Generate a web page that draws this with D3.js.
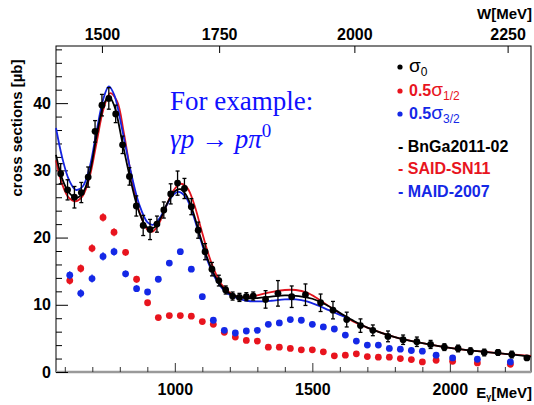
<!DOCTYPE html>
<html>
<head>
<meta charset="utf-8">
<script src="https://cdn.jsdelivr.net/npm/d3@7"></script>
<style>
  html, body { margin: 0; padding: 0; background: #fff; }
  svg { display: block; }
  .lab { font-family: "Liberation Sans", Arial, sans-serif; font-weight: bold; }
</style>
</head>
<body>
<script>
// ---------------- data ----------------
const sig0E   = [585,610,635,660,685,710,735,760,785,810,835,860,885,910,935,960,985,1010,1035,1060,1085,1110,1135,1160,1185,1210,1235,1260,1285,1330,1375,1425,1475,1530,1575,1625,1675,1720,1775,1830,1880,1930,1980,2030,2075,2125,2175,2225,2280];
const sig0V   = [29.5,27.1,26.0,26.7,29.0,35.8,39.7,40.7,38.4,33.8,29.1,24.7,21.8,21.2,22.0,24.1,26.5,28.1,27.3,24.6,21.1,17.9,15.3,13.6,12.2,11.3,11.1,11.2,11.3,10.8,11.7,11.2,11.5,10.3,9.2,7.8,6.9,6.2,5.3,4.8,4.5,4.1,3.7,3.5,3.1,2.9,2.9,2.6,2.1];
const sig0Err = [1.5,1.5,1.6,1.5,1.5,1.6,1.6,1.6,1.3,1.3,1.3,1.5,1.5,1.5,1.2,1.2,1.5,1.8,1.5,1.2,1.2,1.2,1.0,0.8,0.6,0.6,0.6,0.6,0.6,1.3,1.9,1.6,1.6,1.3,1.3,1.1,1.0,0.8,0.8,0.7,0.7,0.6,0.5,0.5,0.5,0.5,0.4,0.5,0.3];

const halfE   = [618,658,699,739,779,821,861,901,940,980,1020,1060,1100,1140,1180,1220,1260,1300,1340,1380,1420,1460,1500,1540,1580,1620,1660,1700,1740,1780,1820,1860,1900,1950,2010,2100,2220];
const half12V = [13.6,15.4,18.4,23.0,20.8,17.8,13.8,10.3,8.1,8.4,8.4,8.3,7.5,7.1,5.9,5.2,4.7,4.6,3.7,3.7,3.5,3.3,3.3,3.0,2.4,2.5,2.7,2.3,2.2,2.2,2.0,1.85,1.5,1.75,1.6,1.35,1.15];
const half32V = [14.4,11.7,13.9,17.2,17.9,14.6,12.4,11.9,13.8,16.2,17.9,15.3,11.2,7.7,6.2,5.8,6.1,6.2,7.1,7.3,7.8,7.7,7.1,6.7,6.4,5.5,4.6,4.0,4.0,3.5,3.4,3.2,3.1,2.5,2.1,1.9,1.5];
const halfErr = [0.6,0.6,0.6,0.6,0.6,0.5,0.5,0.4,0.3,0.3,0.3,0.3,0.3,0.3,0.3,0.3,0.3,0.3,0.3,0.3,0.3,0.3,0.3,0.3,0.3,0.3,0.3,0.3,0.3,0.3,0.3,0.3,0.3,0.3,0.3,0.3,0.3];

const bngaE = [568,590,615,640,665,690,715,740,760,780,810,840,870,900,925,950,975,1000,1020,1040,1065,1090,1115,1140,1165,1190,1220,1260,1300,1350,1400,1450,1500,1550,1600,1650,1700,1800,1900,2000,2100,2200,2295];
const bngaV = [32.3,28.8,26.7,25.9,26.6,29.5,35.0,39.6,41.0,39.6,34.0,28.4,23.8,21.5,21.5,23.0,25.3,26.9,27.2,26.4,24.0,20.5,17.3,14.8,13.0,11.9,11.3,11.0,11.0,11.2,11.4,11.3,10.9,10.0,8.8,7.6,6.6,5.2,4.3,3.6,3.1,2.7,2.3];
const saidE = [568,590,615,640,665,690,715,740,765,790,815,840,870,900,920,945,970,995,1020,1045,1070,1095,1120,1145,1170,1200,1230,1270,1310,1350,1400,1440,1480,1520,1560,1600,1650,1700,1800,1900,2000,2100,2200,2295];
const saidV = [31.5,28.0,25.9,25.4,26.2,29.0,34.0,39.0,41.5,40.3,35.5,29.6,24.0,21.2,20.9,22.3,24.8,27.0,28.0,27.4,25.0,21.4,17.8,15.0,13.0,11.8,11.2,11.2,11.5,11.9,12.2,12.2,11.8,10.9,9.8,8.7,7.5,6.6,5.2,4.3,3.6,3.1,2.7,2.4];
const maidE = [568,590,615,640,665,690,715,740,760,780,810,840,870,900,920,945,970,995,1015,1040,1065,1090,1115,1140,1165,1190,1220,1260,1300,1350,1400,1440,1480,1520,1560,1600,1635];
const maidV = [36.3,32.0,28.6,27.1,27.6,30.4,35.7,40.6,42.5,41.2,35.8,29.8,25.0,22.3,21.9,22.9,24.8,26.4,26.8,26.0,23.6,20.2,17.0,14.5,12.8,11.7,11.1,10.6,10.5,10.6,10.8,10.8,10.5,9.9,9.2,8.5,7.9];

const xTicks = [1000, 1500, 2000];
const wTicks = [1500, 1750, 2000, 2250];
const yTicks = [0, 10, 20, 30, 40];

// ---------------- layout ----------------
const W = 534, H = 405;
const svg = d3.select("body").append("svg").attr("width", W).attr("height", H);

const x = d3.scaleLinear().domain([568, 2295]).range([56, 531]);
const y = d3.scaleLinear().domain([0, 48.5]).range([372, 46]);
// top W axis (W^2 is linear in E_gamma)
const xW = d3.scalePow().exponent(2).domain([1500, 2250]).range([x(735), x(2210)]);

const L = 56, R = 531, T = 46, B = 372;

// frame
svg.append("rect").attr("x", L).attr("y", T).attr("width", R - L).attr("height", B - T)
  .attr("fill", "none").attr("stroke", "#000").attr("stroke-width", 1);

// bottom gray line
svg.append("line").attr("x1", L).attr("x2", R).attr("y1", B).attr("y2", B)
  .attr("stroke", "#9a9a9a").attr("stroke-width", 2.5);

// bottom axis
const xMinor = d3.range(600, 2295, 100);
const gx = svg.append("g").attr("transform", `translate(0,${B})`);
gx.call(d3.axisTop(x).tickValues(xMinor).tickSize(5).tickFormat(""));
gx.select(".domain").remove();
gx.selectAll("line").attr("stroke", "#333");
gx.selectAll(".tick").filter(d => xTicks.includes(d)).select("line").attr("y2", -9);
const gxl = svg.append("g").attr("transform", `translate(0,${B})`);
gxl.call(d3.axisBottom(x).tickValues(xTicks).tickSize(0).tickPadding(12).tickFormat(d3.format("d")));
gxl.select(".domain").remove();
gxl.selectAll("text").attr("class", "lab").attr("font-size", 16).attr("fill", "#000");

// left axis
const yMinor = d3.range(0, 48.1, 2);
const gy = svg.append("g").attr("transform", `translate(${L},0)`);
gy.call(d3.axisRight(y).tickValues(yMinor).tickSize(6).tickFormat(""));
gy.select(".domain").remove();
gy.selectAll("line").attr("stroke", "#000");
gy.selectAll(".tick").filter(d => yTicks.includes(d)).select("line").attr("x2", 12);
const gyl = svg.append("g").attr("transform", `translate(${L},0)`);
gyl.call(d3.axisLeft(y).tickValues(yTicks).tickSize(0).tickPadding(5).tickFormat(d3.format("d")));
gyl.select(".domain").remove();
gyl.selectAll("text").attr("class", "lab").attr("font-size", 16).attr("fill", "#000");

// top axis (W)
const gw = svg.append("g").attr("transform", `translate(0,${T})`);
gw.call(d3.axisBottom(xW).tickValues(wTicks).tickSize(7).tickFormat(""));
gw.select(".domain").remove();
gw.selectAll("line").attr("stroke", "#000");
const gwl = svg.append("g").attr("transform", `translate(0,${T})`);
gwl.call(d3.axisTop(xW).tickValues(wTicks).tickSize(0).tickPadding(6).tickFormat(d3.format("d")));
gwl.select(".domain").remove();
gwl.selectAll("text").attr("class", "lab").attr("font-size", 16).attr("fill", "#000");

// axis titles
svg.append("text").attr("class", "lab").attr("font-size", 15)
  .attr("transform", `translate(22,${128}) rotate(-90)`).attr("text-anchor", "middle")
  .text("cross sections [µb]");
const et = svg.append("text").attr("class", "lab").attr("font-size", 15)
  .attr("x", 532).attr("y", 398).attr("text-anchor", "end");
et.append("tspan").text("E");
et.append("tspan").attr("font-size", 9).attr("dy", 2).text("γ");
et.append("tspan").attr("dy", -2).text("[MeV]");
svg.append("text").attr("class", "lab").attr("font-size", 15)
  .attr("x", 532).attr("y", 19).attr("text-anchor", "end").text("W[MeV]");

// ---------------- marks ----------------
const plot = svg.append("g");
function points(E, V, Err, color, r, cap) {
  const g = plot.append("g");
  E.forEach((e, i) => {
    g.append("line").attr("x1", x(e)).attr("x2", x(e))
      .attr("y1", y(V[i] - Err[i])).attr("y2", y(V[i] + Err[i]))
      .attr("stroke", color).attr("stroke-width", 1.3);
    if (cap) {
      [V[i] - Err[i], V[i] + Err[i]].forEach(v => {
        g.append("line").attr("x1", x(e) - cap).attr("x2", x(e) + cap)
          .attr("y1", y(v)).attr("y2", y(v)).attr("stroke", color).attr("stroke-width", 1.3);
      });
    }
    g.append("circle").attr("cx", x(e)).attr("cy", y(V[i])).attr("r", r).attr("fill", color);
  });
}
points(halfE, half12V, halfErr, "#e8141e", 3.4, 0);
points(halfE, half32V, halfErr, "#1428e6", 3.4, 0);

const line = d3.line().x(d => x(d[0])).y(d => y(d[1])).curve(d3.curveCatmullRom.alpha(0.5));
function curve(E, V, color) {
  plot.append("path").datum(E.map((e, i) => [e, V[i]]))
    .attr("d", line).attr("fill", "none").attr("stroke", color).attr("stroke-width", 1.8);
}
curve(saidE, saidV, "#e0141e");
curve(maidE, maidV, "#1423e0");
curve(bngaE, bngaV, "#000");

points(sig0E, sig0V, sig0Err, "#000", 3.4, 2);

// ---------------- legend ----------------
const lg = svg.append("g");
const rows = [
  { c: "#000", y: 72, pre: "", sub: "0" },
  { c: "#e8141e", y: 96, pre: "0.5", sub: "1/2" },
  { c: "#1428e6", y: 119, pre: "0.5", sub: "3/2" }
];
rows.forEach(r => {
  lg.append("circle").attr("cx", 400).attr("cy", r.y - 5).attr("r", 2.6).attr("fill", r.c);
  const t = lg.append("text").attr("x", 409).attr("y", r.y)
    .attr("font-family", "Liberation Sans, Arial, sans-serif").attr("fill", r.c);
  if (r.pre) t.append("tspan").attr("font-weight", "bold").attr("font-size", 16).text(r.pre);
  t.append("tspan").attr("font-size", 19).text("σ");
  t.append("tspan").attr("font-size", 12).attr("dy", 4).text(r.sub);
});
const mods = [
  { c: "#000", y: 152, t: "- BnGa2011-02" },
  { c: "#e8141e", y: 174, t: "- SAID-SN11" },
  { c: "#1428e6", y: 197, t: "- MAID-2007" }
];
mods.forEach(m => {
  lg.append("text").attr("class", "lab").attr("font-size", 16).attr("x", 398).attr("y", m.y)
    .attr("fill", m.c).text(m.t);
});

// annotation
svg.append("text").attr("x", 170).attr("y", 110)
  .attr("font-family", "Liberation Serif, 'Times New Roman', serif").attr("font-size", 27)
  .attr("fill", "#1010ff").text("For example:");
const r2 = svg.append("text").attr("x", 170).attr("y", 148)
  .attr("font-family", "Liberation Serif, 'Times New Roman', serif").attr("font-size", 27)
  .attr("fill", "#1010ff");
r2.append("tspan").attr("font-style", "italic").text("γp");
r2.append("tspan").text(" → ");
r2.append("tspan").attr("font-style", "italic").text("pπ");
r2.append("tspan").attr("font-size", 19).attr("dy", -11).text("0");
</script>
</body>
</html>
